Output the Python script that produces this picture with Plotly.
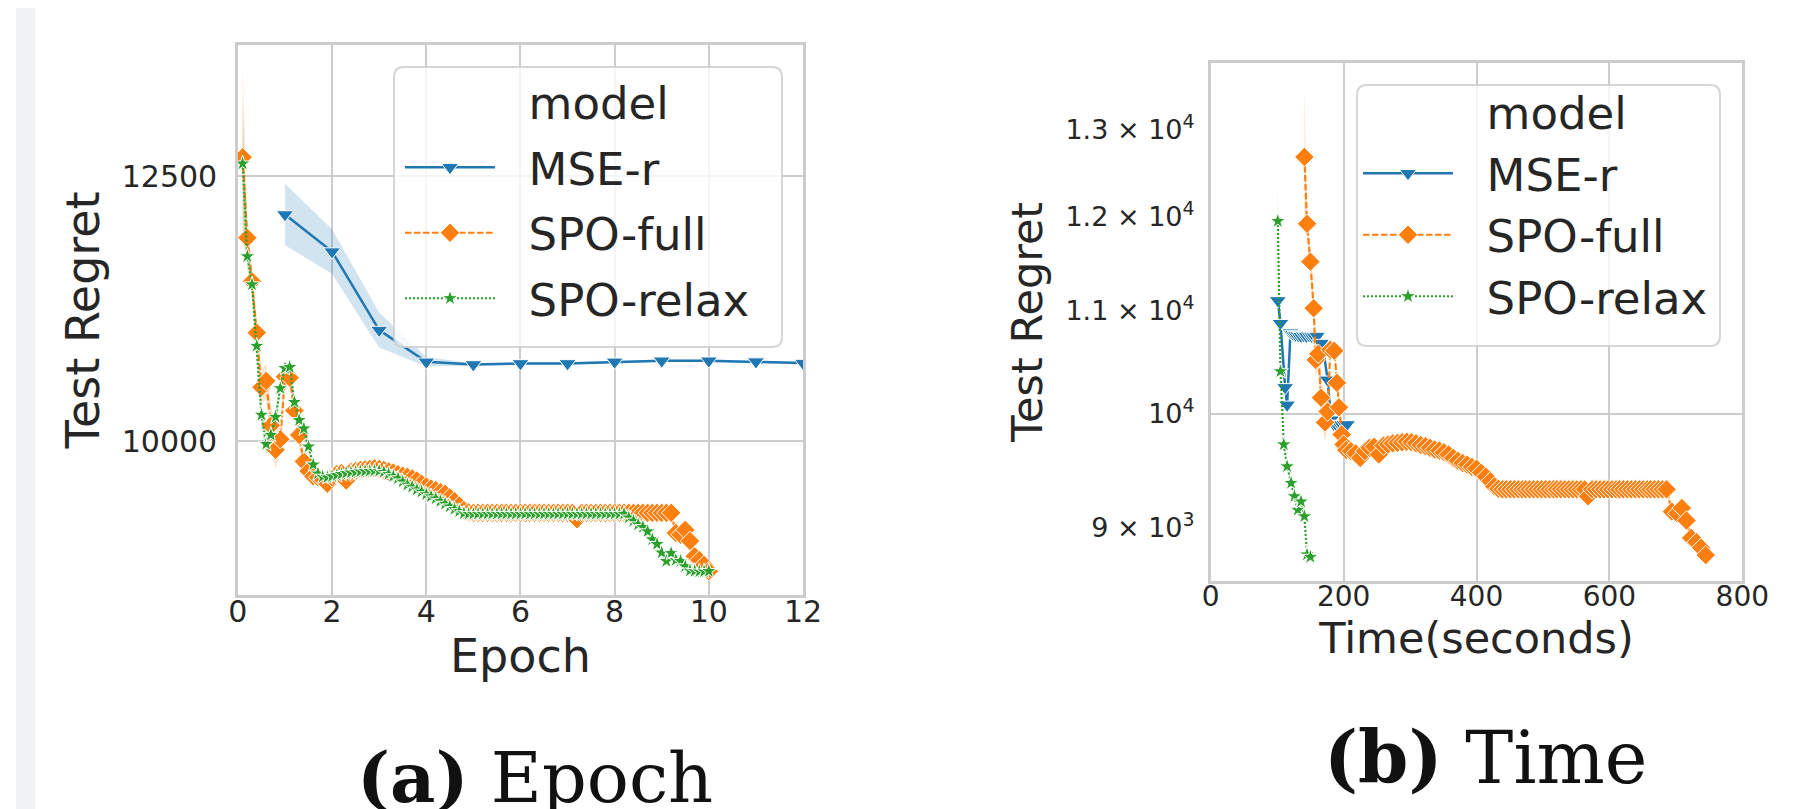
import plotly.graph_objects as go

# ---------------- data ----------------
# (a) Test regret vs. epoch
mse_epochs = [1, 2, 3, 4, 5, 6, 7, 8, 9, 10, 11, 12]
mse_epoch_regret = [12140, 11790, 11050, 10750, 10725, 10735, 10735, 10750, 10760, 10760, 10752, 10738]
mse_epoch_ci = [290, 210, 165, 45, 12, 12, 12, 12, 12, 12, 12, 12]

spo_epochs = [
    0.1, 0.2, 0.3, 0.4, 0.5, 0.6, 0.7, 0.8, 0.9, 1.0,
    1.1, 1.2, 1.3, 1.4, 1.5, 1.6, 1.7, 1.8, 1.9, 2.0,
    2.1, 2.2, 2.3, 2.4, 2.5, 2.6, 2.7, 2.8, 2.9, 3.0,
    3.1, 3.2, 3.3, 3.4, 3.5, 3.6, 3.7, 3.8, 3.9, 4.0,
    4.1, 4.2, 4.3, 4.4, 4.5, 4.6, 4.7, 4.8, 4.9, 5.0,
    5.1, 5.2, 5.3, 5.4, 5.5, 5.6, 5.7, 5.8, 5.9, 6.0,
    6.1, 6.2, 6.3, 6.4, 6.5, 6.6, 6.7, 6.8, 6.9, 7.0,
    7.1, 7.2, 7.3, 7.4, 7.5, 7.6, 7.7, 7.8, 7.9, 8.0,
    8.1, 8.2, 8.3, 8.4, 8.5, 8.6, 8.7, 8.8, 8.9, 9.0,
    9.1, 9.2, 9.3, 9.4, 9.5, 9.6, 9.7, 9.8, 9.9, 10.0,
]
spo_full_regret = [
    12680, 11920, 11510, 11025, 10510, 10570, 10150, 9920, 10020, 10610,
    10600, 10290, 10060, 9810, 9720, 9670, 9660, 9640, 9600, 9660,
    9690, 9700, 9630, 9710, 9720, 9730, 9735, 9740, 9745, 9740,
    9730, 9715, 9705, 9690, 9675, 9665, 9650, 9630, 9600, 9575,
    9555, 9540, 9520, 9505, 9470, 9435, 9395, 9350, 9330, 9325,
    9325, 9325, 9325, 9325, 9325, 9325, 9325, 9325, 9325, 9325,
    9325, 9325, 9325, 9325, 9325, 9325, 9325, 9325, 9325, 9325,
    9325, 9265, 9325, 9325, 9325, 9325, 9325, 9325, 9325, 9325,
    9325, 9325, 9325, 9325, 9325, 9325, 9325, 9325, 9325, 9325,
    9325, 9325, 9135, 9120, 9165, 9060, 8915, 8880, 8835, 8775,
]
spo_full_ci = [
    830, 150, 130, 120, 150, 170, 200, 180, 120, 60,
    60, 90, 100, 90, 60, 40, 25, 25, 25, 25,
    25, 25, 25, 25, 25, 25, 25, 25, 25, 25,
    25, 25, 25, 25, 25, 25, 25, 25, 25, 25,
    25, 25, 25, 25, 25, 25, 25, 20, 15, 15,
    15, 15, 15, 15, 15, 15, 15, 15, 15, 15,
    15, 15, 15, 15, 15, 15, 15, 15, 15, 15,
    15, 15, 15, 15, 15, 15, 15, 15, 15, 15,
    15, 15, 15, 15, 15, 15, 15, 15, 15, 15,
    15, 15, 60, 80, 80, 70, 70, 50, 40, 20,
]
spo_relax_regret = [
    12620, 11745, 11480, 10900, 10250, 9975, 10060, 10230, 10500, 10690,
    10700, 10370, 10200, 10120, 9950, 9780, 9695, 9665, 9660, 9670,
    9680, 9690, 9700, 9705, 9710, 9715, 9718, 9720, 9722, 9720,
    9710, 9690, 9670, 9650, 9620, 9590, 9570, 9545, 9525, 9500,
    9480, 9460, 9435, 9410, 9385, 9360, 9340, 9320, 9315, 9315,
    9315, 9315, 9315, 9315, 9315, 9315, 9315, 9315, 9315, 9315,
    9315, 9315, 9315, 9315, 9315, 9315, 9315, 9315, 9315, 9315,
    9315, 9315, 9315, 9315, 9315, 9315, 9315, 9315, 9315, 9315,
    9315, 9315, 9280, 9250, 9215, 9190, 9150, 9075, 9030, 8950,
    8870, 8945, 8880, 8870, 8820, 8780, 8775, 8772, 8772, 8775,
]
spo_relax_ci = [
    560, 120, 100, 90, 100, 110, 90, 70, 60, 40,
    40, 60, 90, 80, 50, 30, 20, 20, 20, 20,
    20, 20, 20, 20, 20, 20, 20, 20, 20, 20,
    20, 20, 20, 20, 20, 20, 20, 20, 20, 20,
    20, 20, 20, 20, 20, 20, 20, 15, 12, 12,
    12, 12, 12, 12, 12, 12, 12, 12, 12, 12,
    12, 12, 12, 12, 12, 12, 12, 12, 12, 12,
    12, 12, 12, 12, 12, 12, 12, 12, 12, 12,
    12, 12, 40, 50, 50, 50, 55, 55, 55, 55,
    55, 55, 50, 50, 45, 35, 20, 15, 15, 15,
]

# (b) Test regret vs. wall-clock time (seconds)
mse_times = [101, 105, 112, 115, 120, 124, 128, 132, 136, 140, 144, 148, 152,
             156, 160, 166, 170, 176, 181, 185, 189, 193, 197, 201, 205]
mse_time_regret = [11105, 10873, 10247, 10083, 10780, 10765, 10755, 10750, 10745,
                   10750, 10745, 10750, 10745, 10740, 10745, 10675, 10587, 10319,
                   9945, 9905, 9900, 9905, 9900, 9905, 9902]
mse_time_ci = [30, 30, 40, 40, 20, 15, 12, 12, 12, 12, 12, 12, 12,
               12, 12, 25, 30, 30, 20, 10, 10, 10, 10, 10, 10]

spo_full_times = [
    141, 145, 150, 155, 158, 162, 166, 172, 176, 180,
    186, 190, 193, 197, 200, 204, 211, 218, 225, 232,
    239, 246, 253, 260, 267, 274, 281, 288, 295, 302,
    309, 316, 323, 330, 337, 344, 351, 358, 365, 372,
    379, 386, 393, 400, 407, 414, 421, 427, 433, 439,
    445, 451, 457, 463, 469, 474, 480, 486, 492, 498,
    504, 510, 516, 521, 527, 533, 539, 545, 551, 557,
    563, 568, 574, 580, 586, 592, 598, 604, 610, 615,
    621, 627, 633, 639, 645, 651, 657, 662, 668, 674,
    680, 686, 694, 702, 709, 716, 723, 731, 738, 745,
]

spo_relax_times = [101, 105, 110, 115, 121, 126, 131, 136, 141, 145, 150]
spo_relax_time_regret = [11950, 10400, 9720, 9525, 9380, 9265, 9150, 9220, 9095, 8780, 8760]
spo_relax_time_ci = [430, 40, 30, 25, 20, 20, 20, 25, 20, 15, 10]

log_ticks = [9000, 10000, 11000, 12000, 13000]
log_tick_text = ["9 × 10<sup>3</sup>", "10<sup>4</sup>", "1.1 × 10<sup>4</sup>",
                 "1.2 × 10<sup>4</sup>", "1.3 × 10<sup>4</sup>"]

# ---------------- style ----------------
W, H = 1812, 809
TXT = "#262626"
GRID = "#cccccc"
COLORS = {"MSE-r": "#1f77b4", "SPO-full": "#ff7f0e", "SPO-relax": "#2ca02c"}
BANDS = {"MSE-r": "rgba(31,119,180,0.2)", "SPO-full": "rgba(255,127,14,0.2)",
         "SPO-relax": "rgba(44,160,44,0.2)"}
DASH = {"MSE-r": "solid", "SPO-full": "6.5px,2.5px", "SPO-relax": "2px,2px"}
SYMB = {"MSE-r": "triangle-down", "SPO-full": "diamond", "SPO-relax": "star"}
MSIZE = {"MSE-r": 15, "SPO-full": 15, "SPO-relax": 12}
LW = {"MSE-r": 2.5, "SPO-full": 2.2, "SPO-relax": 2.2}
PAD = "\u00a0\u00a0"   # small gap between legend handle and label


def px(xp):
    return xp / W


def py(yp):
    return 1 - yp / H


fig = go.Figure()


def add_series(name, xs, ys, ci, xa, ya, legend):
    hi = [v + c for v, c in zip(ys, ci)]
    lo = [v - c for v, c in zip(ys, ci)]
    fig.add_trace(go.Scatter(
        x=list(xs) + list(xs)[::-1], y=hi + lo[::-1], fill="toself",
        fillcolor=BANDS[name], line=dict(width=0), mode="lines",
        showlegend=False, hoverinfo="skip", xaxis=xa, yaxis=ya,
        legendgroup=name + legend, legend=legend))
    fig.add_trace(go.Scatter(
        x=xs, y=ys, mode="lines+markers", name=PAD + name,
        line=dict(color=COLORS[name], width=LW[name], dash=DASH[name]),
        marker=dict(symbol=SYMB[name], size=MSIZE[name], color=COLORS[name],
                    line=dict(color="white", width=1)),
        xaxis=xa, yaxis=ya, legendgroup=name + legend, legend=legend))


def add_title_entry(xa, ya, legend):
    fig.add_trace(go.Scatter(
        x=[None], y=[None], mode="markers", name=PAD + "model",
        marker=dict(color="rgba(0,0,0,0)", size=1),
        xaxis=xa, yaxis=ya, legend=legend, legendgroup="title" + legend,
        hoverinfo="skip"))


# panel (a)
add_title_entry("x", "y", "legend")
add_series("MSE-r", mse_epochs, mse_epoch_regret, mse_epoch_ci, "x", "y", "legend")
add_series("SPO-full", spo_epochs, spo_full_regret, spo_full_ci, "x", "y", "legend")
add_series("SPO-relax", spo_epochs, spo_relax_regret, spo_relax_ci, "x", "y", "legend")

# panel (b)
add_title_entry("x2", "y2", "legend2")
add_series("MSE-r", mse_times, mse_time_regret, mse_time_ci, "x2", "y2", "legend2")
add_series("SPO-full", spo_full_times, spo_full_regret, spo_full_ci, "x2", "y2", "legend2")
add_series("SPO-relax", spo_relax_times, spo_relax_time_regret, spo_relax_time_ci,
           "x2", "y2", "legend2")


def tfont(size):
    return dict(family="DejaVu Sans", size=size, color=TXT)


axis_common = dict(showline=True, mirror=True, linecolor=GRID, linewidth=2.5,
                   zeroline=False, ticks="", automargin=False)

legend_common = dict(xanchor="left", yanchor="top", bgcolor="rgba(0,0,0,0)",
                     borderwidth=0, font=dict(family="DejaVu Sans", size=45, color=TXT),
                     itemwidth=90, itemsizing="trace", xref="paper", yref="paper")


def rounded_box(x0, y0, x1, y1, r=10):
    X0, X1 = px(x0), px(x1)
    Y0, Y1 = py(y1), py(y0)
    rx, ry = r / W, r / H
    path = (f"M{X0+rx},{Y1} L{X1-rx},{Y1} Q{X1},{Y1} {X1},{Y1-ry} "
            f"L{X1},{Y0+ry} Q{X1},{Y0} {X1-rx},{Y0} L{X0+rx},{Y0} "
            f"Q{X0},{Y0} {X0},{Y0+ry} L{X0},{Y1-ry} Q{X0},{Y1} {X0+rx},{Y1} Z")
    return dict(type="path", path=path, xref="paper", yref="paper",
                fillcolor="rgba(255,255,255,0.8)",
                line=dict(color="rgba(204,204,204,0.8)", width=2), layer="above")


fig.update_layout(
    width=W, height=H, margin=dict(l=0, r=0, t=0, b=0),
    template="none", paper_bgcolor="white", plot_bgcolor="white",
    font=dict(family="DejaVu Sans", color=TXT),
    xaxis=dict(domain=[px(229.9), px(795)], range=[0, 12], anchor="y",
               tickmode="array", tickvals=[0, 2, 4, 6, 8, 10, 12],
               tickfont=tfont(30), ticklabelstandoff=-11,
               gridcolor=GRID, gridwidth=2,
               title=dict(text="Epoch", font=tfont(46), standoff=10), **axis_common),
    yaxis=dict(domain=[py(586.7), py(37)], range=[8553, 13739], anchor="x",
               tickmode="array", tickvals=[10000, 12500], ticktext=["10000", "12500"],
               tickfont=tfont(30), ticklabelstandoff=12,
               gridcolor=GRID, gridwidth=2,
               title=dict(text="Test Regret", font=tfont(46), standoff=8), **axis_common),
    xaxis2=dict(domain=[px(1202.7), px(1734.3)], range=[0, 800], anchor="y2",
                tickmode="array", tickvals=[0, 200, 400, 600, 800],
                tickfont=tfont(28), ticklabelstandoff=-11,
                gridcolor=GRID, gridwidth=2,
                title=dict(text="Time(seconds)", font=tfont(43), standoff=0), **axis_common),
    yaxis2=dict(domain=[py(572.6), py(55)], type="log", range=[3.93301, 4.14084],
                anchor="x2", tickmode="array", tickvals=log_ticks, ticktext=log_tick_text,
                tickfont=tfont(27), showgrid=False, ticklabelstandoff=8,
                minor=dict(tickmode="array", tickvals=[10000], showgrid=True,
                           gridcolor=GRID, gridwidth=2, ticks=""),
                title=dict(text="Test Regret", font=tfont(43), standoff=10), **axis_common),
    legend=dict(x=px(392), y=py(58), tracegroupgap=4, **legend_common),
    legend2=dict(x=px(1350), y=py(68), tracegroupgap=0, **legend_common),
    shapes=[
        dict(type="rect", xref="paper", yref="paper", x0=px(8), x1=px(27), y0=0, y1=1,
             fillcolor="#f1f2f4", line=dict(width=0), layer="below"),
        rounded_box(386, 59, 774, 339),
        rounded_box(1349, 77, 1712, 338),
    ],
    annotations=[
        dict(text="<b>(a)</b> Epoch", xref="paper", yref="paper", x=px(527), y=py(769),
             xanchor="center", yanchor="middle", showarrow=False,
             font=dict(family="DejaVu Serif", size=70, color="#111111")),
        dict(text="<b>(b)</b> Time", xref="paper", yref="paper", x=px(1477), y=py(749),
             xanchor="center", yanchor="middle", showarrow=False,
             font=dict(family="DejaVu Serif", size=72, color="#111111")),
    ],
)

fig.write_html("out.html")
